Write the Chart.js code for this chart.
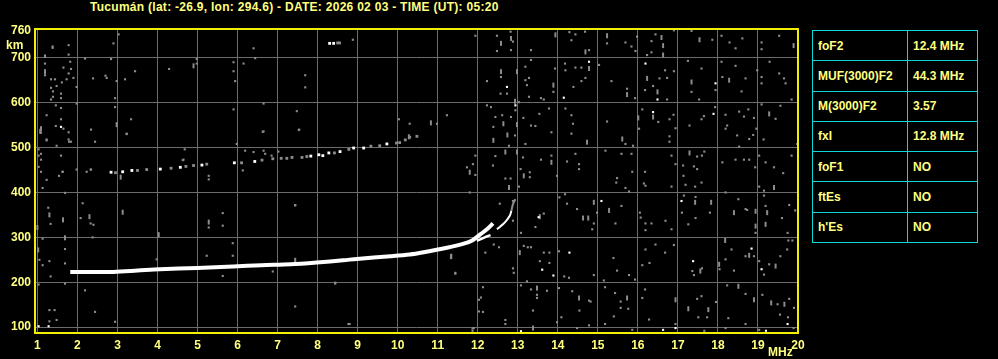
<!DOCTYPE html>
<html>
<head>
<meta charset="utf-8">
<script src="https://cdn.jsdelivr.net/npm/chart.js@4.4.1/dist/chart.umd.min.js"></script>
<style>
body{margin:0;background:#000;width:998px;height:359px;overflow:hidden;position:relative;font-family:"Liberation Sans",Arial,sans-serif;}
#title{position:absolute;left:90px;top:0;color:#ffff80;font-weight:bold;font-size:12px;line-height:14px;letter-spacing:0.28px;white-space:nowrap;}
#wrap{position:absolute;left:0;top:0;width:812px;height:359px;}
#params{position:absolute;left:812px;top:30px;width:166px;height:213px;border-collapse:collapse;}
#params td{border:1px solid #10d8d8;color:#ffff80;font-weight:bold;font-size:12px;padding:0 0 0 5px;white-space:nowrap;}
#params td.k{width:89px;}
</style>
</head>
<body>
<div id="title">Tucumán (lat: -26.9, lon: 294.6) - DATE: 2026 02 03 - TIME (UT): 05:20</div>
<div id="wrap"><canvas id="iono" width="812" height="359"></canvas></div>
<table id="params"></table>
<script>
// axis ticks
const freqTicks = [1,2,3,4,5,6,7,8,9,10,11,12,13,14,15,16,17,18,19,20];
const heightTicks = [100,200,300,400,500,600,700,760];

// scaled parameters (right panel)
const paramNames = ['foF2','MUF(3000)F2','M(3000)F2','fxI','foF1','ftEs',"h'Es"];
const paramValues = ['12.4 MHz','44.3 MHz','3.57','12.8 MHz','NO','NO','NO'];

// F2 ordinary trace [MHz, km]
const mainTrace = [[1.82,223],[2.5,223],[2.9,223],[3.5,226],[4.06,229],[5.0,232],[5.89,235],[6.6,238],[7.32,240],[7.98,244],[8.64,249],[8.98,252],[9.82,258],[10.3,262],[10.65,267],[11.23,277],[11.65,286],[11.86,293],[12.07,307],[12.23,318],[12.38,331]];
const sideTrace = [[11.98,292],[12.15,299],[12.32,305]];
const xTrace = [[12.48,318],[12.65,331],[12.72,338],[12.8,348],[12.84,359]];
const xTraceFaint = [[12.84,359],[12.88,374],[12.94,385]];

// second hop echoes
const hopWhite = [[2.84,445],[3.13,446],[3.36,449],[4.07,452],[4.57,456],[5.11,461],[5.92,466],[6.43,469],[7.83,481],[8.03,484],[8.13,482],[8.28,488],[8.56,491],[8.9,499],[9.15,499],[9.73,508],[8.3,732],[8.4,732]];
const hopGray = [[2.95,444],[3.5,449],[3.73,451],[4.34,454],[4.71,458],[4.9,460],[5.23,463],[6.1,466],[6.61,472],[6.88,475],[7.09,476],[7.23,476],[7.36,478],[7.61,478],[7.73,480],[8.42,488],[8.78,496],[9.33,503],[9.55,504],[9.97,510],[10.05,511],[10.19,517],[10.3,523],[10.48,525],[8.5,733],[8.55,733]];

// isolated echoes / noise
const noiseWhite = [[14.78,691],[14.15,611],[16.19,687],[16.49,607],[17.94,643],[16.38,579],[17.89,575],[15.09,381],[17.09,381],[14.29,266],[13.89,215],[17.38,247],[18.84,275],[19.09,229],[16.63,94],[16.94,98],[19.2,92],[19.74,107],[12.73,635],[12.94,594],[1.59,546],[1.03,102],[1.28,102],[13.61,228],[13.52,345],[13.08,91]];
const noiseLow = [[1.38,722],[1.78,728],[1.78,707],[2.9,732],[3.03,752],[1.19,702],[1.19,687],[1.19,661],[1.82,691],[1.65,678],[1.84,675],[1.78,665],[1.9,655],[1.34,652],[1.44,652],[1.61,645],[1.73,652],[1.34,633],[1.48,637],[1.39,625],[1.59,620],[1.34,607],[1.39,613],[1.59,610],[1.98,635],[2.19,698],[2.39,654],[2.7,660],[2.73,655],[2.98,648],[2.84,697],[3.19,652],[3.44,670],[4.29,675],[4.98,687],[4.98,697],[5.9,690],[5.9,670],[5.94,648],[6.15,687],[6.4,721],[6.44,699],[2.94,610],[2.94,590],[1.98,598],[1.46,594],[1.59,588],[1.23,572],[1.59,563],[1.46,548],[1.65,542],[1.09,533],[1.78,534],[1.23,516],[1.48,504],[1.78,518],[1.84,513],[2.34,540],[2.44,513],[3.34,563],[3.23,531],[5.9,585],[6.65,598],[6.65,536],[5.98,508],[1.09,486],[1.09,473],[1.59,482],[1.09,446],[1.54,437],[1.63,446],[1.98,451],[2.23,446],[2.34,451],[4.68,496],[4.65,473],[5.28,437],[5.28,429],[6.19,493],[6.4,490],[6.65,493],[6.69,486],[6.85,482],[7.02,491],[2.13,376],[2.08,343],[2.33,331],[2.4,328],[2.38,300],[3.98,251],[5.28,322],[5.63,354],[5.63,326],[5.88,287],[5.88,259],[5.23,259],[5.63,214],[7.44,371],[6.88,224],[8.44,197],[11.44,219],[1.69,399],[1.69,274],[1.69,242],[1.69,197],[2.19,182],[3.23,530],[1.79,513],[6.63,535],[7.53,539],[4.63,472],[6.13,449],[1.63,446],[2.33,451],[1.38,725],[1.19,705],[1.23,518],[1.03,496],[1.03,482],[1.03,457],[1.23,428],[1.13,410],[1.27,366],[1.33,330],[1.13,297],[1.05,250],[1.13,238],[1.3,247],[1.33,213],[1.03,195],[1.3,138],[1.43,138],[1.3,113],[1.48,116],[2.44,134],[2.94,112],[8.77,107],[11.87,97],[11.87,92],[12.13,134],[8.88,740],[7.69,661],[7.69,634],[7.48,581],[7.54,540],[11.94,749],[10.03,563],[10.3,553],[10.98,553],[11.23,572],[11.94,482],[11.88,463],[11.73,456],[11.94,439],[12.38,460],[12.44,481],[11.8,400],[7.44,372],[12.4,284],[12.53,278],[12.19,266],[11.44,221],[12.13,189],[12.08,166],[12.03,161],[12.03,135],[11.9,98],[8.8,107],[8.44,199],[7.44,146]];
const noiseHigh = [[14.29,757],[14.44,752],[14.34,739],[14.68,758],[14.78,717],[15.23,732],[15.69,734],[15.84,725],[15.94,715],[15.98,747],[16.34,737],[16.44,752],[16.34,712],[16.23,706],[16.9,761],[17.34,760],[17.86,740],[18.09,749],[18.29,734],[18.44,721],[18.61,743],[19.09,734],[19.09,719],[19.53,749],[13.93,676],[14.18,687],[14.19,672],[14.44,678],[14.59,678],[14.69,655],[14.59,648],[15.03,684],[13.89,624],[14.39,635],[15.34,648],[15.73,631],[15.93,610],[16.18,628],[16.38,637],[16.54,654],[16.68,672],[16.9,670],[16.73,655],[16.73,607],[17.34,624],[17.53,607],[17.25,693],[17.59,676],[17.94,628],[18.09,691],[18.11,657],[18.44,682],[18.59,625],[18.69,654],[18.98,672],[19.09,657],[19.09,643],[19.29,691],[19.53,665],[19.69,643],[19.65,654],[19.84,607],[13.78,587],[14.19,587],[14.34,572],[14.38,553],[13.84,534],[14.34,531],[15.23,558],[15.69,508],[15.88,504],[16.03,542],[16.11,585],[16.51,557],[16.79,563],[16.89,573],[16.94,543],[16.79,525],[16.79,513],[17.29,549],[17.59,563],[17.65,570],[17.93,590],[18.19,573],[18.23,549],[18.19,542],[18.53,580],[18.65,569],[18.76,585],[18.9,566],[18.88,528],[18.96,542],[18.48,527],[18.78,519],[19.09,596],[19.56,593],[19.44,564],[19.14,518],[13.84,482],[13.98,437],[14.23,469],[14.44,486],[14.53,463],[14.53,452],[15.19,493],[15.48,432],[15.59,486],[15.84,486],[15.86,446],[16.18,446],[16.94,463],[16.84,482],[17.13,460],[17.14,437],[17.4,458],[17.48,480],[17.6,482],[17.66,491],[17.48,452],[18.11,467],[18.44,473],[18.53,502],[18.65,473],[18.78,473],[18.93,456],[19.03,482],[19.19,467],[19.4,456],[19.63,443],[19.84,482],[19.98,508],[15.46,422],[15.69,410],[16.15,420],[16.19,415],[16.84,413],[17.19,417],[17.43,413],[17.59,422],[19.03,413],[19.15,404],[14.04,389],[14.18,396],[14.23,375],[14.48,363],[14.98,355],[14.9,331],[14.86,318],[15.44,331],[15.59,370],[15.78,402],[16.05,355],[16.07,344],[16.19,331],[16.34,331],[16.19,316],[16.69,337],[16.84,318],[17.15,393],[17.44,390],[17.1,355],[17.26,329],[17.44,343],[17.8,355],[18.19,400],[18.51,385],[18.69,363],[18.73,361],[18.94,310],[19.15,393],[19.19,370],[19.6,343],[19.74,310],[19.78,372],[19.93,360],[13.79,266],[14.03,269],[13.79,243],[14.16,213],[14.28,210],[14.9,216],[15.15,204],[15.39,254],[15.48,226],[15.78,216],[15.93,206],[16.11,238],[16.19,273],[16.29,243],[16.44,284],[16.68,266],[16.9,283],[17.36,225],[17.4,216],[17.6,231],[18.04,229],[18.19,251],[18.34,273],[18.4,226],[18.69,258],[18.9,258],[19.03,247],[19.15,217],[19.28,240],[19.56,258],[19.73,273],[19.76,293],[19.86,293],[13.73,181],[14.03,187],[14.36,180],[14.78,159],[14.82,157],[14.54,137],[15.18,189],[15.43,176],[15.57,157],[15.76,141],[15.57,143],[15.4,124],[16.11,165],[16.18,184],[16.28,117],[17.48,163],[17.59,169],[17.51,122],[17.73,122],[17.95,156],[18.23,193],[18.69,174],[19.11,172],[19.49,151],[19.78,163],[19.9,143],[19.75,122],[19.55,128],[18.26,120],[18.69,107],[14.09,122],[13.98,111],[14.48,98],[15.18,107],[14.78,104],[15.86,94],[19.89,98],[16.94,107],[18.19,98],[19.03,94],[17.66,92],[12.48,749],[12.48,715],[12.82,758],[12.88,736],[12.83,717],[13.33,717],[13.33,695],[13.19,680],[12.58,657],[12.73,620],[12.57,620],[12.23,648],[13.28,655],[13.19,650],[13.23,639],[13.28,613],[13.58,610],[13.65,607],[12.94,583],[13.03,601],[12.23,594],[12.33,590],[12.61,572],[12.83,568],[12.44,568],[12.39,546],[12.93,527],[13.14,566],[13.33,549],[13.44,548],[13.54,575],[13.19,508],[12.78,504],[13.13,478],[13.07,452],[13.3,445],[13.3,434],[13.58,473],[12.69,431],[12.82,431],[13.03,413],[12.55,375],[12.88,381],[12.88,337],[13.08,310],[13.15,281],[13.25,278],[13.33,278],[13.65,353],[13.44,323],[13.55,247],[13.65,266],[12.88,231],[12.9,221],[13.08,193],[13.23,202],[13.33,184],[13.48,172],[13.38,137],[13.48,165],[12.69,116],[12.69,107]];
const streaks = [[13.94,751],[14.69,713],[15.23,749],[16.59,745],[16.63,727],[16.63,706],[17.54,740],[14.78,676],[13.89,639],[15.73,618],[16.23,654],[16.49,624],[17.34,646],[18.28,650],[14.73,512],[15.61,519],[16.01,566],[16.38,568],[19.28,575],[13.84,467],[17.29,488],[19.4,411],[14.63,343],[14.76,343],[14.9,378],[15.28,360],[17.43,378],[17.83,378],[18.4,355],[18.94,358],[18.94,325],[19.23,355],[19.19,329],[17.56,225],[18.03,240],[18.18,293],[18.78,260],[19.44,236],[14.53,165],[15.73,165],[16.94,161],[17.26,141],[17.76,139],[18.51,191],[18.9,161],[19.33,154],[19.66,151],[12.58,732],[12.83,743],[12.98,669],[12.58,669],[12.93,603],[12.98,551],[12.64,553],[12.74,528],[12.39,516],[10.83,555],[11.8,445],[12.69,490],[12.98,490],[13.15,437],[12.78,411],[11.34,258],[13.05,266],[13.55,346],[13.48,187],[13.38,98],[1.19,669],[4.9,682],[1.09,542],[2.98,551],[2.3,346],[3.13,356],[4.03,306],[5.28,334],[7.44,249],[11.33,257],[1.64,339],[1.69,299],[3.08,434],[10.28,524],[1.07,536],[1.3,350],[1.0,322],[1.02,272],[19.89,727]];

const pts = a => a.map(p => ({x:p[0], y:p[1]}));
const FONT = '"Liberation Sans", Arial, sans-serif';
const YEL = '#ffff80';
const GRAY = '#8c8c8c';

// parameter table
const tbl = document.getElementById('params');
paramNames.forEach((n,i)=>{
  const tr = document.createElement('tr');
  const a = document.createElement('td'); a.className='k'; a.textContent = n;
  const b = document.createElement('td'); b.textContent = paramValues[i];
  tr.appendChild(a); tr.appendChild(b); tbl.appendChild(tr);
});

// frame + unit labels
const framePlugin = {
  id:'frame',
  afterDraw(chart){
    const a = chart.chartArea, ctx = chart.ctx;
    ctx.save();
    ctx.strokeStyle = '#f0f000';
    ctx.lineWidth = 2;
    ctx.strokeRect(a.left, a.top, a.right-a.left, a.bottom-a.top);
    ctx.fillStyle = YEL;
    ctx.font = 'bold 12px ' + FONT;
    ctx.textBaseline = 'alphabetic';
    ctx.fillText('km', 6, 49);
    ctx.fillText('MHz', 768, 356);
    ctx.restore();
  }
};

const lineDs = (data, color, w) => ({type:'scatter', data:pts(data), showLine:true, borderColor:color, borderWidth:w, pointRadius:0, tension:0.3, borderCapStyle:'butt'});
const dotDs = (data, color, r) => ({type:'scatter', data:pts(data), pointStyle:'rect', pointRadius:r, backgroundColor:color, borderWidth:0, pointBorderWidth:0});

new Chart(document.getElementById('iono'), {
  type:'scatter',
  data:{datasets:[
    lineDs(mainTrace, '#ffffff', 4),
    lineDs(sideTrace, '#ffffff', 2.5),
    lineDs(xTrace, '#ffffff', 2),
    lineDs(xTraceFaint, GRAY, 2),
    dotDs(hopWhite, '#ffffff', 2),
    dotDs(hopGray, GRAY, 2),
    dotDs(noiseWhite, '#ffffff', 1.5),
    dotDs(noiseLow, GRAY, 1.5),
    dotDs(noiseHigh, GRAY, 1.5),
    {type:'scatter', data:pts(streaks), pointStyle:'line', rotation:90, pointRadius:2.5, borderColor:GRAY, pointBorderColor:GRAY, pointBorderWidth:2}
  ]},
  options:{
    responsive:false,
    animation:false,
    layout:{padding:{left:0, right:14, top:29, bottom:0}},
    plugins:{legend:{display:false}, tooltip:{enabled:false}},
    scales:{
      x:{
        type:'linear', min:0.94, max:20,
        afterBuildTicks: s => { s.ticks = freqTicks.map(v => ({value:v})); },
        afterFit: s => { s.height = 26; },
        grid:{color:'#6c6c6c', drawTicks:false, lineWidth:1},
        border:{display:false},
        ticks:{color:YEL, font:{family:FONT, size:12, weight:'bold'}, padding:5, maxRotation:0, autoSkip:false}
      },
      y:{
        type:'linear', min:87, max:764,
        afterBuildTicks: s => { s.ticks = heightTicks.map(v => ({value:v})); },
        afterFit: s => { s.width = 35; },
        grid:{color: c => c.tick && c.tick.value === 760 ? 'rgba(0,0,0,0)' : '#6c6c6c', drawTicks:false, lineWidth:1},
        border:{display:false},
        ticks:{color:YEL, font:{family:FONT, size:12, weight:'bold'}, padding:4, autoSkip:false}
      }
    }
  },
  plugins:[framePlugin]
});
</script>
</body>
</html>
